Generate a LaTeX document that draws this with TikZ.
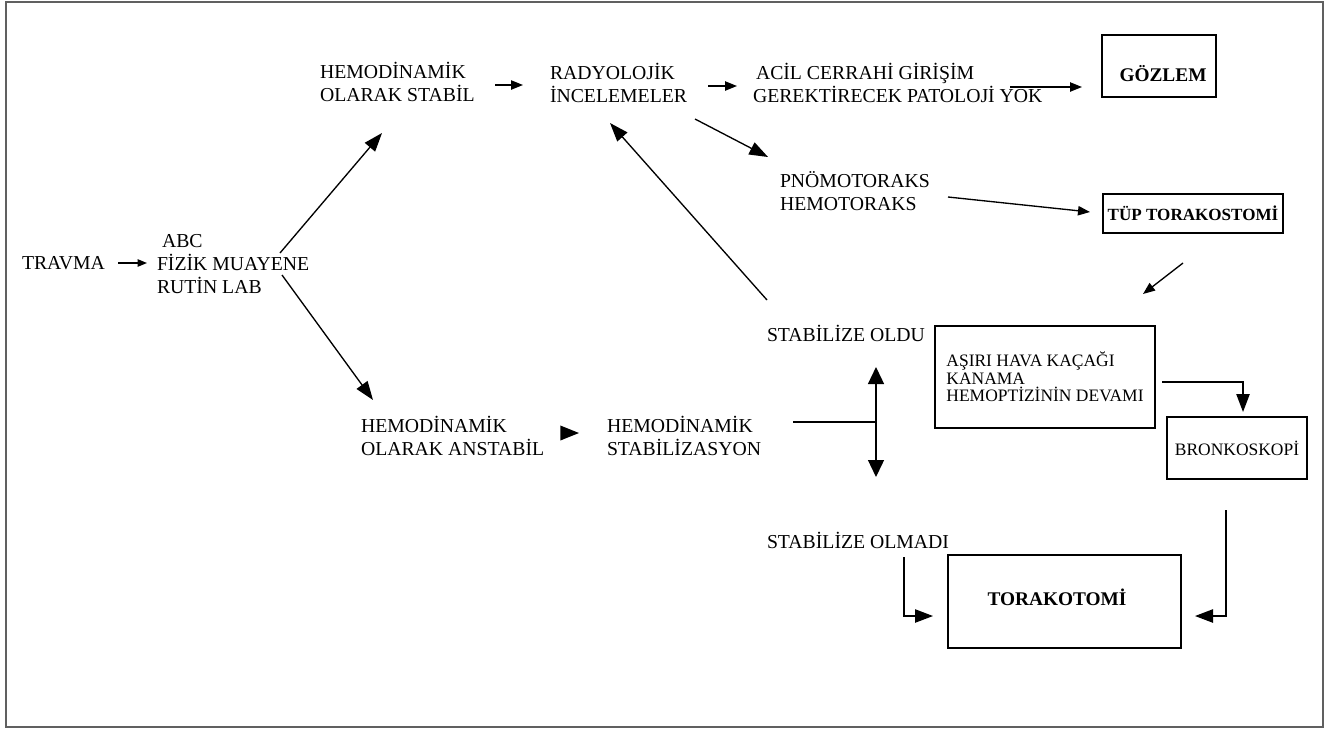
\documentclass[tikz,border=0pt]{standalone}
\usepackage{fontspec}
\setmainfont{Liberation Serif}
\usetikzlibrary{arrows.meta,calc}
\begin{document}
\begin{tikzpicture}[x=0.75pt,y=-0.75pt,
  txt/.style={anchor=west, inner sep=0pt, outer sep=0pt, align=left, font=\fontsize{14.8pt}{17.25pt}\selectfont},
  box/.style={draw, line width=1.3pt, inner sep=0pt, outer sep=0pt, align=center},
  bigfont/.style={font=\fontsize{14.5pt}{17.25pt}\selectfont\bfseries},
  smallfont/.style={font=\fontsize{13.1pt}{13.2pt}\selectfont},
  conn/.style={line width=1pt},
  arr/.style={conn, -{Triangle[length=14pt,width=10pt]}},
  marr/.style={conn, -{Triangle[length=9pt,width=7pt]}},
  sarr/.style={conn, -{Triangle[length=7pt,width=5.5pt]}},
  barr/.style={conn, -{Triangle[length=14pt,width=11pt]}},
  darr/.style={conn, {Triangle[length=12.75pt,width=12pt]}-{Triangle[length=12.75pt,width=12pt]}},
  earr/.style={conn, -{Triangle[length=13.5pt,width=10pt]}}
]
\useasboundingbox (0,0) rectangle (1333,729);
\draw[gray!75!black, line width=0.8pt] (6,2) rectangle (1323,727);

% text nodes
\node[txt] (travma) at (22,263) {TRAVMA};
\node[txt] (abc) at (157,264) {\hspace*{3.75pt}ABC\\FİZİK MUAYENE\\RUTİN LAB};
\node[txt] (stabil) at (320,82) {HEMODİNAMİK\\OLARAK STABİL};
\node[txt] (radyo) at (550,83) {RADYOLOJİK\\İNCELEMELER};
\node[txt] (acil) at (753,83) {\hspace*{2.25pt}ACİL CERRAHİ GİRİŞİM\\GEREKTİRECEK PATOLOJİ YOK};
\node[txt] (pnomo) at (780,191) {PNÖMOTORAKS\\HEMOTORAKS};
\node[txt] (anstabil) at (361,436) {HEMODİNAMİK\\OLARAK ANSTABİL};
\node[txt] (stabz) at (607,436) {HEMODİNAMİK\\STABİLİZASYON};
\node[txt] (oldu) at (767,333) {STABİLİZE OLDU};
\node[txt] (olmadi) at (767,540) {STABİLİZE OLMADI};

% boxes
\node[box, minimum width=85.5pt, minimum height=46.5pt] (gozlem) at (1159,66) {};
\node[inner sep=0pt, bigfont] (gozlemtext) at (1163,74) {GÖZLEM};
\node[box, minimum width=135pt, minimum height=29.25pt, font=\fontsize{12.8pt}{14pt}\selectfont\bfseries] (tup) at (1193,213.5) {TÜP TORAKOSTOMİ};
\node[box, minimum width=165pt, minimum height=76.5pt, align=left, smallfont] (asiri) at (1045,377) {AŞIRI HAVA KAÇAĞI\\KANAMA\\HEMOPTİZİNİN DEVAMI};
\node[box, minimum width=105pt, minimum height=46.5pt, smallfont] (bronko) at (1237,448) {BRONKOSKOPİ};
\node[box, minimum width=174.75pt, minimum height=69.75pt] (torako) at (1064.5,601.5) {};
\node[inner sep=0pt, bigfont] (torakotext) at (1057,597) {TORAKOTOMİ};

% connectors
\draw[sarr] ($(travma.west)+(96,0)$) -- ($(abc.west)+(-10,-1)$);
\draw[arr] ($(abc.west)+(123,-11)$) -- ($(stabil.west)+(62,51)$);
\draw[arr] ($(abc.west)+(125,11)$) -- ($(anstabil.west)+(12,-36)$);
\draw[marr] ($(stabil.west)+(175,3)$) -- ($(radyo.west)+(-27,2)$);
\draw[marr] ($(radyo.west)+(158,3)$) -- ($(acil.west)+(-16,3)$);
\draw[marr] ($(acil.west)+(257,4)$) -- ($(gozlem.west)+(-20,21)$);
\draw[arr] ($(radyo.west)+(145,36)$) -- ($(pnomo.west)+(-12,-34)$);
\draw[marr] ($(pnomo.west)+(168,6)$) -- ($(tup.west)+(-13,-1.5)$);
\draw[marr] ($(tup.south)+(-10,30)$) -- ($(asiri.north east)+(-12,-32)$);
\draw[arr] ($(oldu.west)+(0,-33)$) -- ($(radyo.west)+(60,40)$);
\draw[barr] ($(anstabil.west)+(200,-3)$) -- ($(stabz.west)+(-28,-3)$);
\coordinate (junc) at ($(oldu.west)+(109,89)$);
\draw[conn] ($(stabz.west)+(186,-14)$) -- (junc);
\draw[darr] ($(oldu.west)+(109,34)$) -- ($(olmadi.west)+(109,-63)$);
\draw[earr] ($(olmadi.west)+(137,17)$) |- ($(torako.west)+(-15,14.5)$);
\draw[earr] ($(bronko.south)+(-11,31)$) |- ($(torako.east)+(14,14.5)$);
\draw[earr] ($(asiri.east)+(7,5)$) -| ($(bronko.north)+(6,-5)$);
\end{tikzpicture}
\end{document}
